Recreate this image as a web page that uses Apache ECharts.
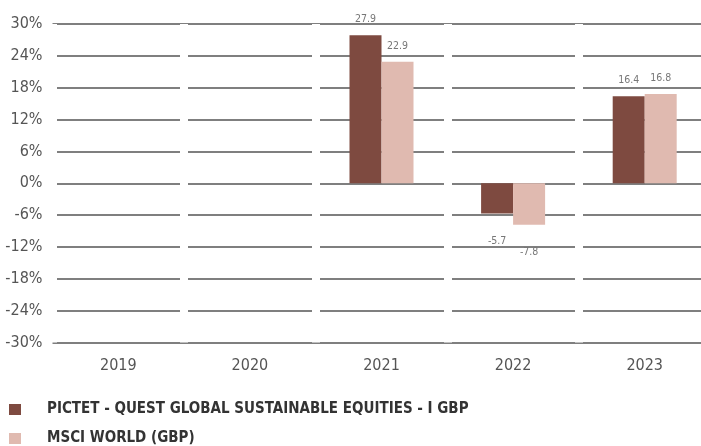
<!DOCTYPE html>
<html>
<head>
<meta charset="utf-8">
<script src="https://cdn.jsdelivr.net/npm/echarts@6/dist/echarts.min.js"></script>
<style>
  html, body { margin: 0; padding: 0; background: #fff; overflow: hidden; }
  /* the plot runs a little past the right edge of the window, as in the original */
  #chart { width: 711px; height: 446px; }
</style>
</head>
<body>
<div id="chart"></div>
<script>
const years = ["2019", "2020", "2021", "2022", "2023"];
const fundName = "PICTET - QUEST GLOBAL SUSTAINABLE EQUITIES - I GBP";
const indexName = "MSCI WORLD (GBP)";
const fundValues = [null, null, 27.9, -5.7, 16.4];
const indexValues = [null, null, 22.9, -7.8, 16.8];

const FONT = '"Liberation Sans Narrow", "DejaVu Sans Condensed", "Roboto Condensed", sans-serif';

// negative bars get their label underneath
function toItems(values) {
  return values.map((v) => {
    if (v === null) return { value: null, label: { show: false } };
    if (v < 0) return { value: v, label: { position: "bottom", distance: 22 } };
    return { value: v };
  });
}

const barLabel = {
  show: true,
  position: "top",
  distance: 10,
  color: "#777",
  fontSize: 10.5,
  fontFamily: FONT,
};

const option = {
  animation: false,
  grid: { left: 52.5, right: 0.5, top: 24, bottom: 103.5 },
  legend: {
    orient: "vertical",
    left: 9,
    top: 401,
    height: 60,
    padding: 0,
    itemWidth: 12,
    itemHeight: 11,
    itemGap: 12,
    icon: "rect",
    data: [fundName, indexName],
    textStyle: {
      color: "#333",
      fontSize: 15,
      fontWeight: "bold",
      fontFamily: FONT,
      padding: [0, 0, 0, 21],
      lineHeight: 17,
    },
  },
  xAxis: {
    type: "category",
    data: years,
    z: 5,
    axisLine: { show: false },
    axisTick: { show: false },
    axisLabel: { color: "#555", fontSize: 16, fontFamily: FONT, margin: 15 },
    // white separators cut the grid lines into one segment per year
    splitLine: { show: true, lineStyle: { color: "#fff", width: 8 } },
  },
  yAxis: {
    type: "value",
    min: -30,
    max: 30,
    interval: 6,
    z: 0,
    axisLine: { show: false },
    axisTick: { show: false },
    axisLabel: {
      color: "#555",
      fontSize: 16,
      fontFamily: FONT,
      margin: 10,
      formatter: "{value}%",
    },
    splitLine: { lineStyle: { color: "#555", width: 1.5 } },
  },
  series: [
    {
      name: fundName,
      type: "bar",
      barWidth: 32,
      barGap: "0%",
      z: 10,
      itemStyle: { color: "#7e4a40" },
      label: barLabel,
      data: toItems(fundValues),
    },
    {
      name: indexName,
      type: "bar",
      barWidth: 32,
      z: 10,
      itemStyle: { color: "#e0bab0" },
      label: barLabel,
      data: toItems(indexValues),
    },
  ],
};

echarts.init(document.getElementById("chart")).setOption(option);
</script>
</body>
</html>
